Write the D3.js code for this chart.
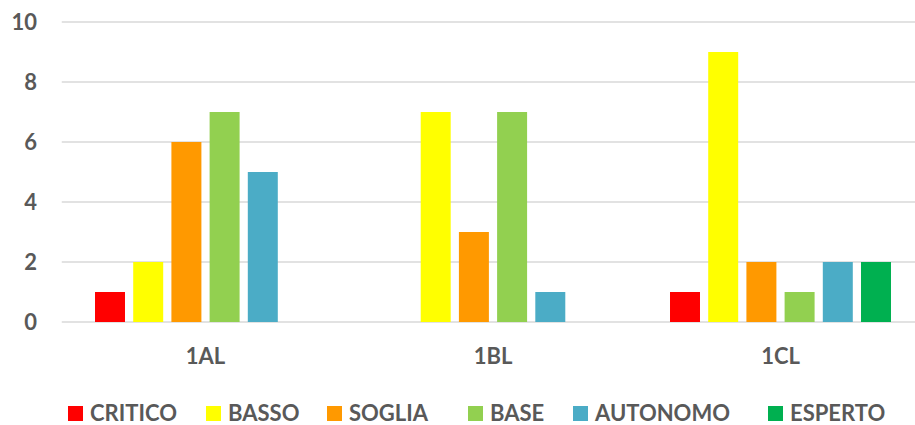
<!DOCTYPE html>
<html>
<head>
<meta charset="utf-8">
<script src="https://cdn.jsdelivr.net/npm/d3@7"></script>
<style>
  body { margin: 0; background: #fff; }
  svg { display: block; font-family: Lato, "Open Sans", sans-serif; }
</style>
</head>
<body>
<svg id="chart" width="915" height="425"></svg>
<script>
// dati
const classes = ["1AL", "1BL", "1CL"];
const levels = ["CRITICO", "BASSO", "SOGLIA", "BASE", "AUTONOMO", "ESPERTO"];
const critico  = [1, 0, 1];
const basso    = [2, 7, 9];
const soglia   = [6, 3, 2];
const base     = [7, 7, 1];
const autonomo = [5, 1, 2];
const esperto  = [0, 0, 2];
const yTicks = [0, 2, 4, 6, 8, 10];
const colors = ["#FF0000", "#FFFF00", "#FF9900", "#92D050", "#4BACC6", "#00B050"];

const seriesValues = [critico, basso, soglia, base, autonomo, esperto];

const svg = d3.select("#chart");
const textColor = "#595959";

// plot area (extends slightly past the right edge, like the original)
const plotLeft = 61.75, plotRight = 924.25, plotTop = 22, plotBottom = 322;
// legend entry positions, as laid out in the original
const legendX = [68, 206, 327, 468, 573, 768];

const x0 = d3.scaleBand().domain(classes).range([plotLeft, plotRight]).padding(0);
const groupW = 229.2;
const x1 = d3.scaleBand().domain(levels)
    .range([(x0.bandwidth() - groupW) / 2, (x0.bandwidth() + groupW) / 2])
    .paddingInner(0.215).paddingOuter(0.1075);
const y = d3.scaleLinear().domain([0, 10]).range([plotBottom, plotTop]);

// gridlines
svg.append("g")
    .selectAll("line")
    .data(yTicks)
    .join("line")
    .attr("x1", plotLeft)
    .attr("x2", plotRight)
    .attr("y1", d => y(d))
    .attr("y2", d => y(d))
    .attr("stroke", "#d9d9d9")
    .attr("stroke-width", 1.3);

// y labels
svg.append("g")
    .selectAll("text")
    .data(yTicks)
    .join("text")
    .attr("x", 37)
    .attr("y", d => y(d))
    .attr("dy", "0.36em")
    .attr("text-anchor", "end")
    .attr("font-size", "22px")
    .attr("font-weight", "bold")
    .attr("fill", textColor)
    .text(d => d);

// bars
const rows = classes.map((c, i) => ({
    cls: c,
    vals: levels.map((l, j) => ({ level: l, value: seriesValues[j][i], color: colors[j] }))
}));

const groups = svg.append("g")
    .selectAll("g")
    .data(rows)
    .join("g")
    .attr("transform", d => `translate(${x0(d.cls)},0)`);

groups.selectAll("rect")
    .data(d => d.vals.filter(v => v.value > 0))
    .join("rect")
    .attr("x", d => x1(d.level))
    .attr("width", x1.bandwidth())
    .attr("y", d => y(d.value))
    .attr("height", d => y(0) - y(d.value))
    .attr("fill", d => d.color);

// x labels
svg.append("g")
    .selectAll("text")
    .data(classes)
    .join("text")
    .attr("x", d => x0(d) + x0.bandwidth() / 2)
    .attr("y", 356)
    .attr("dy", "0.36em")
    .attr("text-anchor", "middle")
    .attr("font-size", "22px")
    .attr("font-weight", "bold")
    .attr("fill", textColor)
    .text(d => d);

// legend
const legend = svg.append("g").attr("transform", "translate(0,413.5)");
levels.forEach((l, i) => {
    const item = legend.append("g").attr("transform", `translate(${legendX[i]},0)`);
    item.append("rect")
        .attr("x", 0)
        .attr("y", -7.5)
        .attr("width", 15)
        .attr("height", 15)
        .attr("fill", colors[i]);
    item.append("text")
        .attr("x", 22)
        .attr("dy", "0.36em")
        .attr("font-size", "22px")
        .attr("font-weight", "bold")
        .attr("fill", textColor)
        .text(l);
});
</script>
</body>
</html>
